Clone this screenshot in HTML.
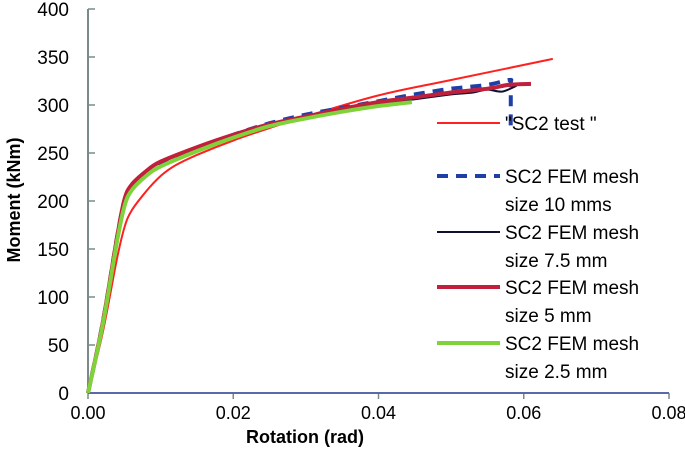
<!DOCTYPE html>
<html><head><meta charset="utf-8"><style>
body{margin:0;background:#fff}
svg text{font-family:"Liberation Sans",sans-serif}
</style></head><body>
<svg id="chart" width="685" height="457" xmlns="http://www.w3.org/2000/svg">
<rect width="685" height="457" fill="#fff"/>
<g id="axes"></g>
<g id="plot"></g>
<g id="legend">
<line x1="437" y1="123" x2="500" y2="123" stroke="#ff2020" stroke-width="2"/>
<text x="505" y="130" font-size="19">"SC2 test "</text>
<line x1="437" y1="176" x2="500" y2="176" stroke="#1f3fa8" stroke-width="4" stroke-dasharray="11,8"/>
<text x="505" y="183" font-size="19"><tspan x="505">SC2 FEM  mesh</tspan><tspan x="505" dy="28">size 10 mms</tspan></text>
<line x1="437" y1="232" x2="500" y2="232" stroke="#101030" stroke-width="2"/>
<text x="505" y="239" font-size="19"><tspan x="505">SC2 FEM mesh</tspan><tspan x="505" dy="28">size 7.5 mm</tspan></text>
<line x1="437" y1="287" x2="500" y2="287" stroke="#c0203c" stroke-width="4"/>
<text x="505" y="294" font-size="19"><tspan x="505">SC2 FEM mesh</tspan><tspan x="505" dy="28">size 5 mm</tspan></text>
<line x1="437" y1="343" x2="500" y2="343" stroke="#7fd23a" stroke-width="4"/>
<text x="505" y="350" font-size="19"><tspan x="505">SC2 FEM mesh</tspan><tspan x="505" dy="28">size 2.5 mm</tspan></text>
</g>
</svg>
<script>
const xTicks=[0,0.02,0.04,0.06,0.08];
const xTickLabels=["0.00","0.02","0.04","0.06","0.08"];
const yTicks=[0,50,100,150,200,250,300,350,400];
const testX=[0,0.002,0.004,0.005,0.006,0.008,0.01,0.012,0.015,0.02,0.025,0.03,0.04,0.05,0.064];
const testY=[0,62,140,172,190,210,226,237,248,263,276,288,310,326,348];
const m10X=[0,0.002,0.004,0.005,0.006,0.008,0.01,0.015,0.02,0.025,0.03,0.035,0.04,0.045,0.05,0.055,0.058,0.0582,0.0582];
const m10Y=[0,72,162,200,216,230,240,255,269,281,290,297,304,311,317,321,326,320,277];
const m75X=[0,0.002,0.004,0.005,0.006,0.008,0.01,0.015,0.02,0.025,0.03,0.035,0.04,0.045,0.05,0.053,0.055,0.057,0.059];
const m75Y=[0,72,162,201,217,231,240,255,269,280,287,294,301,306,311,313,316,314,320];
const m5X=[0,0.002,0.004,0.005,0.006,0.008,0.01,0.015,0.02,0.025,0.03,0.035,0.04,0.045,0.05,0.055,0.058,0.061];
const m5Y=[0,72,162,201,217,231,241,256,269,280,288,296,303,308,313,317,321,322];
const m25X=[0,0.002,0.004,0.005,0.006,0.008,0.01,0.015,0.02,0.025,0.03,0.035,0.04,0.0446];
const m25Y=[0,70,158,194,211,226,236,252,266,278,286,293,299,303];
const NS="http://www.w3.org/2000/svg";
const X=v=>88+v/0.08*581, Y=v=>393-v/400*384;
const axes=document.getElementById('axes'), plot=document.getElementById('plot');
function mk(tag,attrs,parent){const e=document.createElementNS(NS,tag);for(const k in attrs)e.setAttribute(k,attrs[k]);parent.appendChild(e);return e;}
yTicks.forEach(t=>{
 const l=mk('line',{x1:88,x2:95,y1:Y(t),y2:Y(t),stroke:'#7a8a8a','stroke-width':1.5},axes);
 
 
 const tx=mk('text',{x:69,y:Y(t)+7,'font-size':19,'text-anchor':'end'},axes);tx.textContent=t;
 
 
});
xTicks.forEach((t,i)=>{
 const l=mk('line',{x1:X(t),x2:X(t),y1:393,y2:399,stroke:'#7a8a8a','stroke-width':1.5},axes);
 
 
 const tx=mk('text',{x:X(t),y:419,'font-size':18,'text-anchor':'middle'},axes);tx.textContent=xTickLabels[i];
 
 
});
const ya=mk('line',{x1:88,x2:88,y1:Y(400),y2:393,stroke:'#7a8a8a','stroke-width':2},axes);


const xa=mk('line',{x1:88,x2:669,y1:393,y2:393,stroke:'#5a6aa8','stroke-width':2},axes);


const xt=mk('text',{x:305,y:443,'font-size':18,'font-weight':'bold','text-anchor':'middle'},axes);xt.textContent='Rotation (rad)';


const yt=mk('text',{x:0,y:0,'font-size':18,'font-weight':'bold','text-anchor':'middle',transform:'translate(20,200) rotate(-90)'},axes);yt.textContent='Moment (kNm)';


function series(xs,ys,attrs,name){
 const pts=xs.map((x,i)=>[X(x),Y(ys[i])]);
 let d='M'+pts[0][0].toFixed(1)+','+pts[0][1].toFixed(1);
 for(let i=0;i<pts.length-1;i++){
  const p0=pts[Math.max(0,i-1)],p1=pts[i],p2=pts[i+1],p3=pts[Math.min(pts.length-1,i+2)];
  const c1=[p1[0]+(p2[0]-p0[0])/6,p1[1]+(p2[1]-p0[1])/6];
  const c2=[p2[0]-(p3[0]-p1[0])/6,p2[1]-(p3[1]-p1[1])/6];
  d+='C'+c1.map(v=>v.toFixed(1)).join(',')+' '+c2.map(v=>v.toFixed(1)).join(',')+' '+p2.map(v=>v.toFixed(1)).join(',');
 }
 const p=mk('path',Object.assign({d:d,fill:'none','stroke-linejoin':'round'},attrs),plot);
 
 
}
series(testX,testY,{stroke:'#ff2020','stroke-width':2},'series-test');
series(m10X,m10Y,{stroke:'#1f3fa8','stroke-width':4,'stroke-dasharray':'11,8'},'series-mesh-10mm');
series(m75X,m75Y,{stroke:'#101030','stroke-width':2},'series-mesh-7-5mm');
series(m5X,m5Y,{stroke:'#c0203c','stroke-width':4},'series-mesh-5mm');
series(m25X,m25Y,{stroke:'#7fd23a','stroke-width':4},'series-mesh-2-5mm');
</script>
</body></html>
